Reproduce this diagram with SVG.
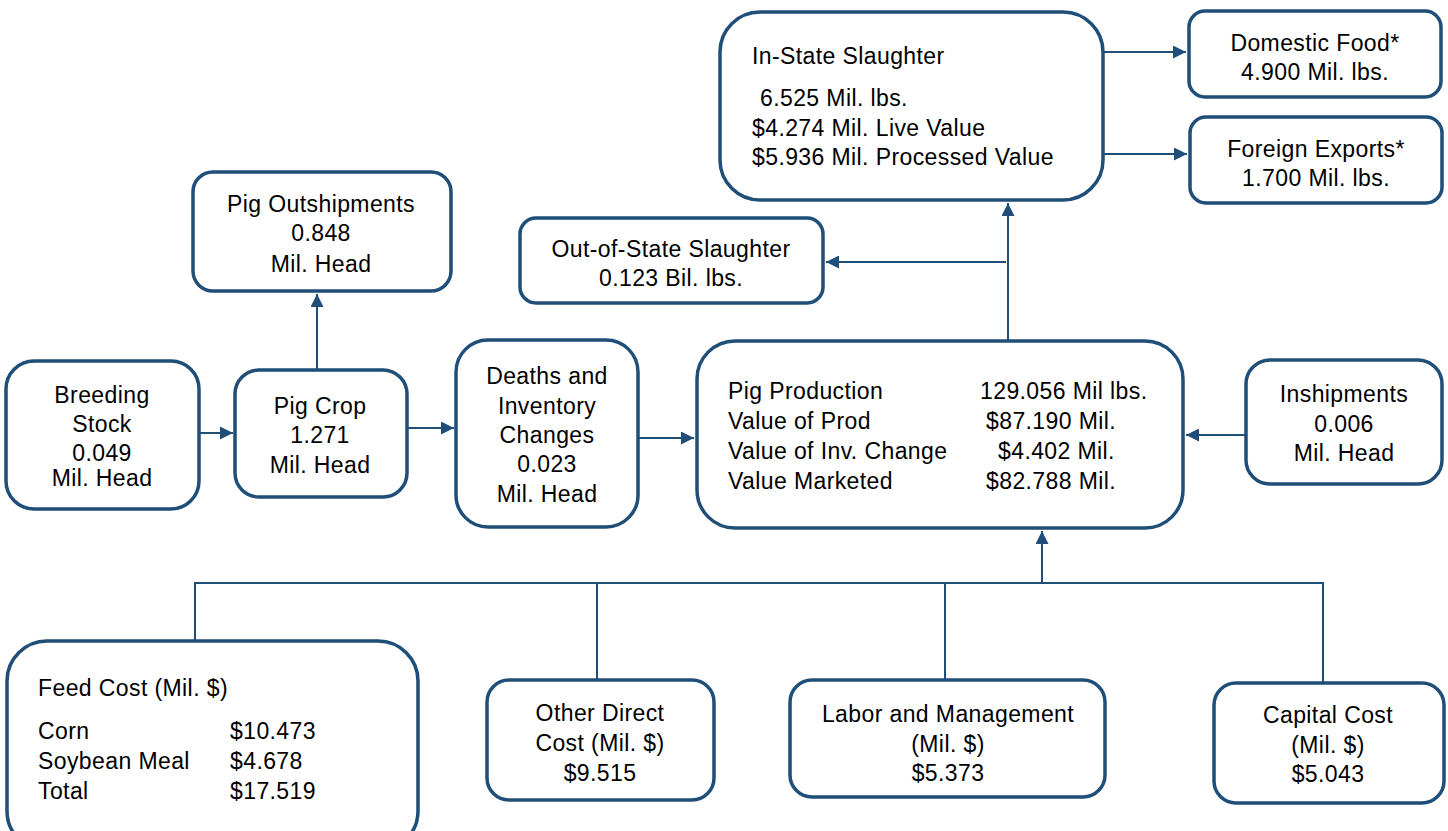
<svg xmlns="http://www.w3.org/2000/svg" width="1448" height="831" viewBox="0 0 1448 831">
<style>
.box{fill:#fff;stroke:#1f4e79;stroke-width:3.5}
.t{font-family:"Liberation Sans",Arial,sans-serif;font-size:23px;letter-spacing:0.4px;fill:#000}
.c{text-anchor:middle}
.ln{fill:none;stroke:#1f4e79;stroke-width:2}
</style>
<defs>
<marker id="ah" viewBox="0 0 10 10" refX="10" refY="5" markerWidth="13" markerHeight="13" markerUnits="userSpaceOnUse" orient="auto">
<path d="M0,0 L10,5 L0,10 z" fill="#1f4e79"/>
</marker>
</defs>
<rect width="1448" height="831" fill="#fff"/>
<g id="connectors">
<line class="ln" x1="1103" y1="52" x2="1186" y2="52" marker-end="url(#ah)"/>
<line class="ln" x1="1103" y1="154" x2="1187" y2="154" marker-end="url(#ah)"/>
<line class="ln" x1="1008" y1="340" x2="1008" y2="203" marker-end="url(#ah)"/>
<line class="ln" x1="1006" y1="262" x2="826" y2="262" marker-end="url(#ah)"/>
<line class="ln" x1="317" y1="370" x2="317" y2="294" marker-end="url(#ah)"/>
<line class="ln" x1="199" y1="433" x2="233" y2="433" marker-end="url(#ah)"/>
<line class="ln" x1="407" y1="428" x2="454" y2="428" marker-end="url(#ah)"/>
<line class="ln" x1="638" y1="438" x2="694" y2="438" marker-end="url(#ah)"/>
<line class="ln" x1="1246" y1="435" x2="1186" y2="435" marker-end="url(#ah)"/>
<polyline class="ln" points="195,641 195,583 1323,583 1323,683"/>
<line class="ln" x1="597" y1="583" x2="597" y2="680"/>
<line class="ln" x1="945" y1="583" x2="945" y2="680"/>
<line class="ln" x1="1042" y1="583" x2="1042" y2="531" marker-end="url(#ah)"/>
</g>
<g id="in-state">
<rect class="box" x="720" y="12" width="383" height="188" rx="40"/>
<text class="t" x="752" y="64">In-State Slaughter</text>
<text class="t" x="760" y="106">6.525 Mil. lbs.</text>
<text class="t" x="752" y="136">$4.274 Mil. Live Value</text>
<text class="t" x="752" y="165">$5.936 Mil. Processed Value</text>
</g>
<g id="domestic">
<rect class="box" x="1189" y="11" width="252" height="86" rx="16"/>
<text class="t c" x="1315" y="51">Domestic Food*</text>
<text class="t c" x="1315" y="80">4.900 Mil. lbs.</text>
</g>
<g id="foreign">
<rect class="box" x="1190" y="117" width="252" height="86" rx="16"/>
<text class="t c" x="1316" y="157">Foreign Exports*</text>
<text class="t c" x="1316" y="186">1.700 Mil. lbs.</text>
</g>
<g id="out-of-state">
<rect class="box" x="520" y="218" width="303" height="85" rx="16"/>
<text class="t c" x="671" y="257">Out-of-State Slaughter</text>
<text class="t c" x="671" y="286">0.123 Bil. lbs.</text>
</g>
<g id="outshipments">
<rect class="box" x="193" y="172" width="258" height="119" rx="20"/>
<text class="t c" x="321" y="212">Pig Outshipments</text>
<text class="t c" x="321" y="241">0.848</text>
<text class="t c" x="321" y="272">Mil. Head</text>
</g>
<g id="breeding">
<rect class="box" x="6" y="361" width="193" height="148" rx="28"/>
<text class="t c" x="102" y="403">Breeding</text>
<text class="t c" x="102" y="432">Stock</text>
<text class="t c" x="102" y="461">0.049</text>
<text class="t c" x="102" y="486">Mil. Head</text>
</g>
<g id="pigcrop">
<rect class="box" x="235" y="370" width="172" height="127" rx="24"/>
<text class="t c" x="320" y="414">Pig Crop</text>
<text class="t c" x="320" y="443">1.271</text>
<text class="t c" x="320" y="473">Mil. Head</text>
</g>
<g id="deaths">
<rect class="box" x="456" y="340" width="182" height="187" rx="32"/>
<text class="t c" x="547" y="384">Deaths and</text>
<text class="t c" x="547" y="414">Inventory</text>
<text class="t c" x="547" y="443">Changes</text>
<text class="t c" x="547" y="472">0.023</text>
<text class="t c" x="547" y="502">Mil. Head</text>
</g>
<g id="production">
<rect class="box" x="697" y="341" width="486" height="187" rx="38"/>
<text class="t" x="728" y="399">Pig Production</text>
<text class="t" x="980" y="399">129.056 Mil lbs.</text>
<text class="t" x="728" y="429">Value of Prod</text>
<text class="t" x="986" y="429">$87.190 Mil.</text>
<text class="t" x="728" y="459">Value of Inv. Change</text>
<text class="t" x="998" y="459">$4.402 Mil.</text>
<text class="t" x="728" y="489">Value Marketed</text>
<text class="t" x="986" y="489">$82.788 Mil.</text>
</g>
<g id="inshipments">
<rect class="box" x="1246" y="360" width="196" height="124" rx="24"/>
<text class="t c" x="1344" y="402">Inshipments</text>
<text class="t c" x="1344" y="432">0.006</text>
<text class="t c" x="1344" y="461">Mil. Head</text>
</g>
<g id="feed">
<rect class="box" x="7" y="641" width="411" height="210" rx="40"/>
<text class="t" x="38" y="696">Feed Cost (Mil. $)</text>
<text class="t" x="38" y="739">Corn</text>
<text class="t" x="230" y="739">$10.473</text>
<text class="t" x="38" y="769">Soybean Meal</text>
<text class="t" x="230" y="769">$4.678</text>
<text class="t" x="38" y="799">Total</text>
<text class="t" x="230" y="799">$17.519</text>
</g>
<g id="otherdirect">
<rect class="box" x="487" y="680" width="227" height="120" rx="22"/>
<text class="t c" x="600" y="721">Other Direct</text>
<text class="t c" x="600" y="751">Cost (Mil. $)</text>
<text class="t c" x="600" y="781">$9.515</text>
</g>
<g id="labor">
<rect class="box" x="790" y="680" width="315" height="117" rx="22"/>
<text class="t c" x="948" y="722">Labor and Management</text>
<text class="t c" x="948" y="752">(Mil. $)</text>
<text class="t c" x="948" y="781">$5.373</text>
</g>
<g id="capital">
<rect class="box" x="1214" y="683" width="230" height="120" rx="22"/>
<text class="t c" x="1328" y="723">Capital Cost</text>
<text class="t c" x="1328" y="753">(Mil. $)</text>
<text class="t c" x="1328" y="782">$5.043</text>
</g>
</svg>
